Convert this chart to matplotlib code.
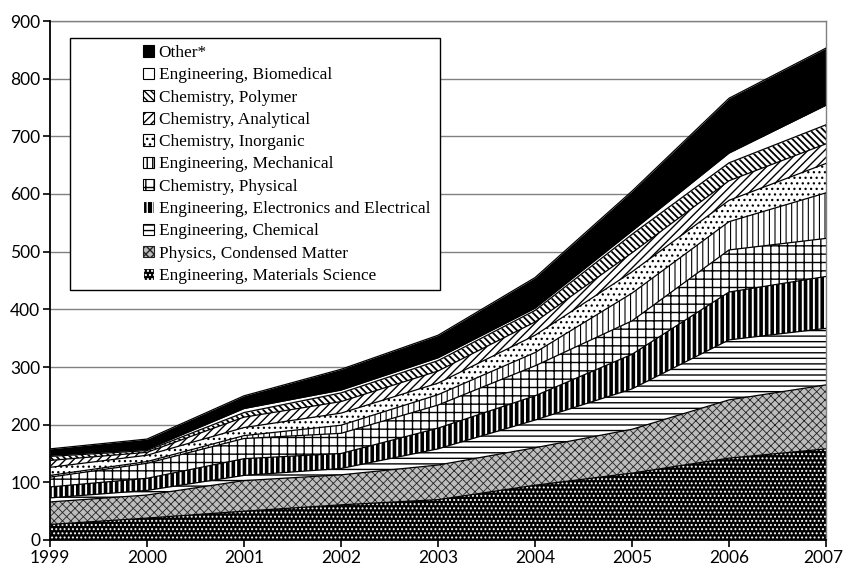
import matplotlib
matplotlib.use('Agg')

import matplotlib.pyplot as plt
from matplotlib.patches import Patch, Rectangle
from matplotlib.transforms import ScaledTranslation
import numpy as np

years = [1999, 2000, 2001, 2002, 2003, 2004, 2005, 2006, 2007]

# papers per subject area, bottom layer first
materials_science = [27, 38, 50, 61, 70, 95, 116, 142, 158]
condensed_matter = [39, 40, 53, 52, 60, 65, 76, 101, 111]
eng_chemical = [7, 8, 9, 11, 28, 48, 70, 104, 98]
electronics = [19, 21, 29, 26, 36, 42, 60, 83, 90]
chem_physical = [17, 26, 35, 35, 40, 52, 58, 73, 66]
eng_mechanical = [3, 3, 5, 14, 18, 23, 48, 49, 79]
chem_inorganic = [14, 11, 14, 21, 20, 30, 37, 37, 51]
chem_analytical = [12, 5, 18, 20, 21, 23, 33, 34, 34]
chem_polymer = [7, 3, 8, 15, 18, 20, 32, 31, 33]
eng_biomedical = [2, 2, 7, 5, 5, 4, 6, 17, 34]
other = [11, 18, 22, 36, 39, 53, 69, 95, 99]

labels = [
    'Engineering, Materials Science',
    'Physics, Condensed Matter',
    'Engineering, Chemical',
    'Engineering, Electronics and Electrical',
    'Chemistry, Physical',
    'Engineering, Mechanical',
    'Chemistry, Inorganic',
    'Chemistry, Analytical',
    'Chemistry, Polymer',
    'Engineering, Biomedical',
    'Other*',
]
series = [materials_science, condensed_matter, eng_chemical, electronics,
          chem_physical, eng_mechanical, chem_inorganic, chem_analytical,
          chem_polymer, eng_biomedical, other]

# (face, hatch colour, hatch, hatch linewidth)
styles = [
    ('black', 'white', '....', 0.9),
    ('#bdbdbd', '#222222', 'xxxx', 0.6),
    ('white', 'black', '---', 1.0),
    ('black', 'white', '|||', 1.4),
    ('white', 'black', '++', 1.0),
    ('white', 'black', '|||', 0.8),
    ('white', 'black', '...', 0.9),
    ('white', 'black', '////', 1.0),
    ('white', 'black', '\\\\\\\\\\', 1.3),
    ('white', 'black', None, 1.0),
    ('black', 'black', None, 1.0),
]

fig = plt.figure(figsize=(8.44, 5.67), dpi=100)
ax = fig.add_axes([50 / 844, 1 - 540 / 567, 776 / 844, 519 / 567])

x = np.array(years)
base = np.zeros(len(years))
for vals, (fc, hc, hatch, hlw) in zip(series, styles):
    top = base + np.array(vals)
    with plt.rc_context({'hatch.linewidth': hlw}):
        ax.fill_between(x, base, top, facecolor=fc, edgecolor=hc,
                        hatch=hatch, linewidth=0, zorder=2)
    ax.plot(x, top, color='black', lw=0.9, zorder=3)
    base = top

ax.set_xlim(1999, 2007)
ax.set_ylim(0, 900)
ax.set_xticks(years)
ax.set_yticks(range(0, 1000, 100))
ax.yaxis.grid(True, color='#808080', lw=1.0)
ax.set_axisbelow(True)

for side in ['top', 'right']:
    ax.spines[side].set_color('#808080')
    ax.spines[side].set_linewidth(1.0)
for side in ['left', 'bottom']:
    ax.spines[side].set_color('black')
    ax.spines[side].set_linewidth(1.3)
    ax.spines[side].set_zorder(4)

ax.tick_params(direction='out', length=5, width=1.2, colors='black',
               labelsize=12.5, pad=2)
for lab in ax.get_xticklabels() + ax.get_yticklabels():
    lab.set_family('Lato')
# pull the last year label in from the figure edge
last = ax.get_xticklabels()[-1]
last.set_transform(last.get_transform()
                   + ScaledTranslation(-3 / 100, 0, fig.dpi_scale_trans))

# legend box drawn by hand so the entries sit to the right inside it
fig.patches.append(Rectangle((70 / 844, 1 - 290 / 567), 370 / 844, 252 / 567,
                             transform=fig.transFigure, facecolor='white',
                             edgecolor='black', lw=1.0, zorder=5))

handles = []
for (fc, hc, hatch, hlw), lab in zip(styles, labels):
    with plt.rc_context({'hatch.linewidth': 0.8}):
        handles.append(Patch(facecolor=fc, edgecolor=hc if hatch else 'black',
                             hatch=hatch, lw=0.8, label=lab))
leg = fig.legend(handles[::-1], labels[::-1], loc='upper left',
                 bbox_to_anchor=(131 / 844, 1 - 33 / 567), frameon=False,
                 prop={'family': 'Liberation Serif', 'size': 12.4},
                 handlelength=0.65, handleheight=0.65, handletextpad=0.25,
                 labelspacing=0.365, borderpad=0.2)
leg.set_zorder(6)

fig.savefig('out.png', dpi=100)
